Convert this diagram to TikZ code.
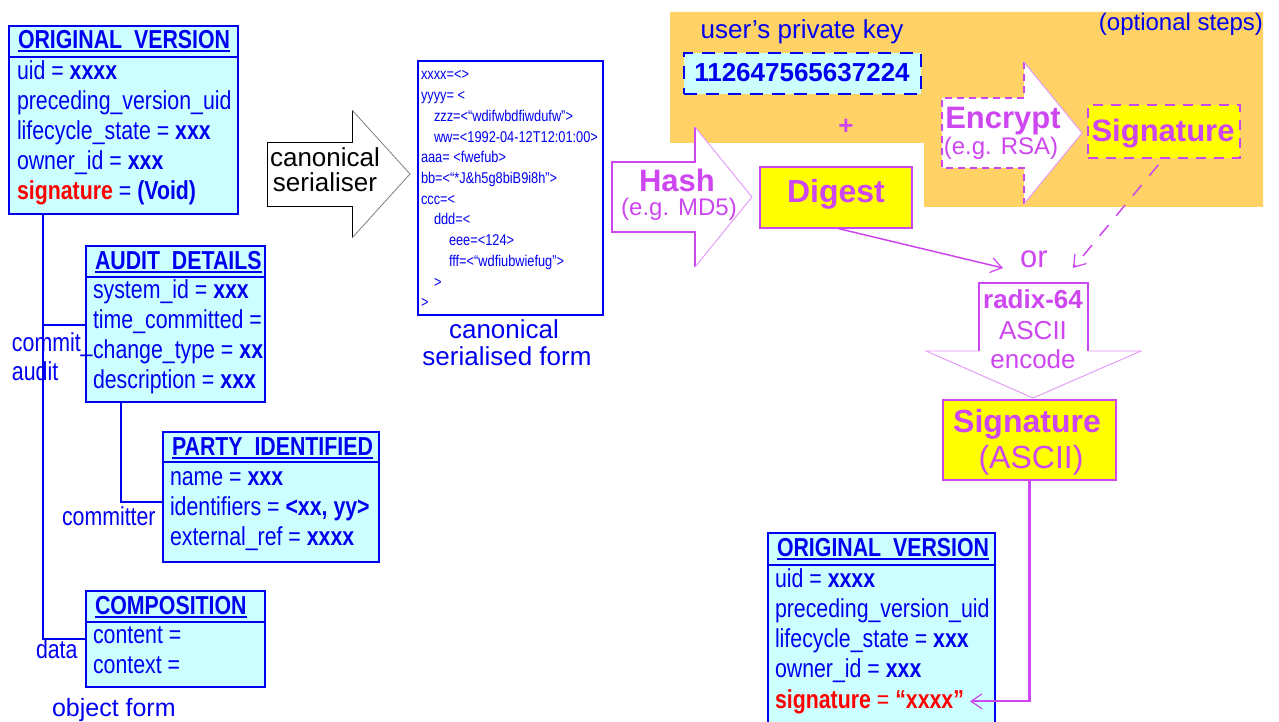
\documentclass[tikz,border=0pt]{standalone}
\usepackage{fontspec}
\setmainfont{Liberation Sans}
\newfontfamily\narrowf[FakeStretch=0.82]{Liberation Sans}
\usetikzlibrary{arrows.meta}
\definecolor{ublue}{RGB}{0,0,240}
\definecolor{umag}{RGB}{205,70,240}
\definecolor{ulmag}{RGB}{228,150,250}
\definecolor{ucyan}{RGB}{204,255,255}
\definecolor{uyel}{RGB}{255,255,0}
\definecolor{uorange}{RGB}{255,210,102}
\definecolor{ured}{RGB}{255,0,0}
\newcommand\fsz[1]{\fontsize{#1}{#1}\selectfont}
\newsavebox\ulbox
\newcommand\ulin[1]{\sbox\ulbox{#1}\rlap{\usebox\ulbox}\rule[-3.5pt]{\wd\ulbox}{2pt}}
\tikzset{
  classbox/.style={draw=ublue, fill=ucyan, line width=2.2pt, inner sep=0pt, outer sep=0pt, anchor=north west},
  sepline/.style={draw=ublue, line width=2.2pt},
  bline/.style={draw=ublue, line width=2pt},
  plain/.style={inner sep=0pt, outer sep=0pt},
  row/.style={plain, anchor=base west, text=ublue, font=\narrowf\fsz{26}},
  hdr/.style={row, font=\narrowf\bfseries\fsz{26}},
  sertxt/.style={plain, anchor=base west, text=ublue, font=\narrowf\fsz{15.6}},
  bluetxt/.style={plain, anchor=base, text=ublue, font=\fsz{26}},
  magtxt/.style={plain, anchor=base, text=umag, font=\fsz{24}},
  magbold/.style={plain, anchor=base, text=umag, font=\bfseries\fsz{31}},
  yelbox/.style={draw=umag, fill=uyel, line width=2pt, inner sep=0pt, outer sep=0pt, anchor=north west},
  magline/.style={draw=umag, line width=1.5pt},
  barb/.style={-{Straight Barb[length=11pt,width=15pt,line width=1.2pt]}},
}
\begin{document}
\begin{tikzpicture}[x=1pt,y=-1pt]
\useasboundingbox (0,0) rectangle (1279,722);
\fill[white] (0,0) rectangle (1279,722);

% optional-steps background
\fill[uorange] (670,12) -- (1263,12) -- (1263,207) -- (924,207) -- (924,143) -- (670,143) -- cycle;

% ---------- object form (left) ----------
\node[classbox, minimum width=229pt, minimum height=188pt] (ov1) at (9,26) {};
\draw[sepline] (ov1.west |- 0,57) -- (ov1.east |- 0,57);
\node[hdr] (ov1h) at (18,49) {\ulin{ORIGINAL\_VERSION}};
\node[row] (ov1a) at (17,80) {uid = \textbf{xxxx}};
\node[row] (ov1b) at (17,110) {preceding\_version\_uid};
\node[row] (ov1c) at (17,140) {lifecycle\_state = \textbf{xxx}};
\node[row] (ov1d) at (17,170) {owner\_id = \textbf{xxx}};
\node[row] (ov1e) at (17,200) {\textcolor{ured}{\textbf{signature}} = \textbf{(Void)}};

\node[classbox, minimum width=179pt, minimum height=156pt] (ad) at (86,246) {};
\draw[sepline] (ad.west |- 0,277) -- (ad.east |- 0,277);
\begin{scope}
\clip (ad.north west) rectangle (ad.south east);
\node[hdr] (adh) at (95,269) {\ulin{AUDIT\_DETAILS}};
\node[row] (ada) at (93,298) {system\_id = \textbf{xxx}};
\node[row] (adb) at (93,328) {time\_committed =};
\node[row] (adc) at (93,358) {change\_type = \textbf{xx}};
\node[row] (add) at (93,388) {description = \textbf{xxx}};
\end{scope}

\node[classbox, minimum width=216pt, minimum height=130pt] (pi) at (163,432) {};
\draw[sepline] (pi.west |- 0,462) -- (pi.east |- 0,462);
\node[hdr] (pih) at (172,455) {\ulin{PARTY\_IDENTIFIED}};
\node[row] (pia) at (170,485) {name = \textbf{xxx}};
\node[row] (pib) at (170,515) {identifiers = \textbf{<xx, yy>}};
\node[row] (pic) at (170,545) {external\_ref = \textbf{xxxx}};

\node[classbox, minimum width=179pt, minimum height=96pt] (comp) at (86,591) {};
\draw[sepline] (comp.west |- 0,622) -- (comp.east |- 0,622);
\node[hdr] (comph) at (95,614) {\ulin{COMPOSITION}};
\node[row] (compa) at (93,643) {content =};
\node[row] (compb) at (93,673) {context =};

% associations
\draw[bline] ([xshift=34pt]ov1.south west) |- (comp.west |- 0,639);
\draw[bline] (ad.west |- 0,325) -- ++(-43,0);
\draw[bline] ([xshift=35pt]ad.south west) |- (pi.west |- 0,502);
\node[row] (lcommit) at (12,351) {commit\_};
\node[row] (laudit) at (12,380) {audit};
\node[row] (lcommitter) at (62,525) {committer};
\node[row] (ldata) at (36,658) {data};
\node[plain, anchor=base west, text=ublue, font=\fsz{25}] (objform) at (52,716) {object form};

% ---------- canonical serialiser arrow ----------
\fill[white] (267,143) -- (352,143) -- (352,110) -- (410,174) -- (352,238) -- (352,207) -- (267,207) -- cycle;
\draw[black, line width=1pt] (352,110) -- (352,143) -- (267,143) -- (267,207) -- (352,207) -- (352,238);
\draw[gray, line width=0.8pt] (352,110) -- (410,174) -- (352,238);
\node[plain, anchor=base, font=\fsz{26}] (cs1) at (325,167) {canonical};
\node[plain, anchor=base, font=\fsz{26}] (cs2) at (325,192) {serialiser};

% ---------- serialised form ----------
\node[draw=ublue, fill=white, line width=2.2pt, inner sep=0pt, outer sep=0pt, anchor=north west,
      minimum width=185pt, minimum height=254pt] (ser) at (418,61) {};
\node[sertxt] (s1) at (421,80) {xxxx=<>};
\node[sertxt] (s2) at (421,100.7) {yyyy= <};
\node[sertxt] (s3) at (434,121.4) {zzz=<“wdifwbdfiwdufw”>};
\node[sertxt] (s4) at (434,142.1) {ww=<1992-04-12T12:01:00>};
\node[sertxt] (s5) at (421,162.8) {aaa= <fwefub>};
\node[sertxt] (s6) at (421,183.5) {bb=<“*J\&h5g8biB9i8h”>};
\node[sertxt] (s7) at (421,204.2) {ccc=<};
\node[sertxt] (s8) at (434,224.9) {ddd=<};
\node[sertxt] (s9) at (449,245.6) {eee=<124>};
\node[sertxt] (s10) at (449,266.3) {fff=<“wdfiubwiefug”>};
\node[sertxt] (s11) at (434,287) {>};
\node[sertxt] (s12) at (421,307.7) {>};
\node[bluetxt] (csf1) at (504,338) {canonical};
\node[bluetxt] (csf2) at (507,365) {serialised form};

% ---------- hash arrow ----------
\fill[white] (612,162) -- (695,162) -- (695,127) -- (752,197) -- (695,267) -- (695,232) -- (612,232) -- cycle;
\draw[magline] (695,127) -- (695,162) -- (612,162) -- (612,232) -- (695,232) -- (695,267);
\draw[ulmag, line width=0.9pt] (695,127) -- (752,197) -- (695,267);
\node[magbold] (hash) at (677,192) {Hash};
\node[magtxt] (hashx) at (679,215) {(e.g. MD5)};

\node[yelbox, minimum width=152pt, minimum height=61pt] (digest) at (760,167) {};
\node[magbold, font=\bfseries\fsz{32}] (digestt) at (836,203) {Digest};

% ---------- private key ----------
\node[bluetxt] (pk) at (802,39) {user’s private key};
\node[draw=ublue, fill=ucyan, line width=2pt, dash pattern=on 13pt off 9pt, inner sep=0pt, outer sep=0pt,
      anchor=north west, minimum width=237pt, minimum height=41pt] (key) at (684,53) {};
\node[plain, anchor=base, text=ublue, font=\bfseries\fsz{26}] (keyt) at (802,82) {112647565637224};
\node[plain, text=umag, font=\bfseries\fsz{26}] (plus) at (846,127) {+};
\node[plain, anchor=base east, text=ublue, font=\fsz{24}] (opt) at (1263,31) {(optional steps)};

% ---------- encrypt arrow ----------
\fill[white] (942,98) -- (1024,98) -- (1024,62) -- (1082,133) -- (1024,204) -- (1024,168) -- (942,168) -- cycle;
\draw[umag, line width=1.2pt, dash pattern=on 7pt off 5pt] (1024,62) -- (1024,98) -- (942,98) -- (942,168) -- (1024,168) -- (1024,204);
\draw[ulmag, line width=0.9pt] (1024,62) -- (1082,133) -- (1024,204);
\node[magbold] (enc) at (1003,129) {Encrypt};
\node[magtxt] (encx) at (1001,155) {(e.g. RSA)};

\node[yelbox, line width=1.6pt, dash pattern=on 10pt off 8pt, minimum width=152pt, minimum height=53pt] (sig1) at (1088,105) {};
\node[magbold] (sig1t) at (1163,142) {Signature};

% ---------- or ----------
\node[plain, anchor=base, text=umag, font=\fsz{31}] (or) at (1034,267) {or};
\coordinate (orL) at (1003,268);
\coordinate (orR) at (1073,268);
\draw[magline, barb] (digest.south) -- (orL);
\draw[magline, barb, dash pattern=on 14pt off 12pt, shorten <=9pt] (sig1.south) -- (orR);

% ---------- radix-64 arrow ----------
\fill[white] (979,283) -- (1088,283) -- (1088,351) -- (1141,351) -- (1033,398) -- (926,351) -- (979,351) -- cycle;
\draw[magline] (979,351) -- (979,283) -- (1088,283) -- (1088,351);
\draw[ulmag, line width=0.9pt] (1088,351) -- (1141,351) -- (1033,398) -- (926,351) -- (979,351);
\node[plain, anchor=base, text=umag, font=\bfseries\fsz{26}] (rad1) at (1033,308) {radix-64};
\node[plain, anchor=base, text=umag, font=\fsz{26}] (rad2) at (1033,339) {ASCII};
\node[plain, anchor=base, text=umag, font=\fsz{26}] (rad3) at (1033,368) {encode};

\node[yelbox, minimum width=173pt, minimum height=80pt] (sig2) at (943,400) {};
\node[magbold, font=\bfseries\fsz{32}] (sig2a) at (1027,432) {Signature};
\node[plain, anchor=base, text=umag, font=\fsz{32}] (sig2b) at (1031,468) {(ASCII)};

% ---------- object form with signature (bottom right) ----------
\node[classbox, minimum width=227pt, minimum height=212pt] (ov2) at (768,533) {};
\draw[sepline] (ov2.west |- 0,565) -- (ov2.east |- 0,565);
\node[hdr] (ov2h) at (777,556) {\ulin{ORIGINAL\_VERSION}};
\node[row] (ov2a) at (775,587) {uid = \textbf{xxxx}};
\node[row] (ov2b) at (775,617) {preceding\_version\_uid};
\node[row] (ov2c) at (775,647) {lifecycle\_state = \textbf{xxx}};
\node[row] (ov2d) at (775,677) {owner\_id = \textbf{xxx}};
\node[row, text=ured] (ov2s) at (775,708) {\textbf{signature} = \textbf{“xxxx”}};

\draw[draw=umag, line width=2.2pt, -{Straight Barb[length=11pt,width=15pt,line width=1.2pt]}] (sig2.south) |- ([xshift=6pt]ov2s.east);
\end{tikzpicture}
\end{document}
